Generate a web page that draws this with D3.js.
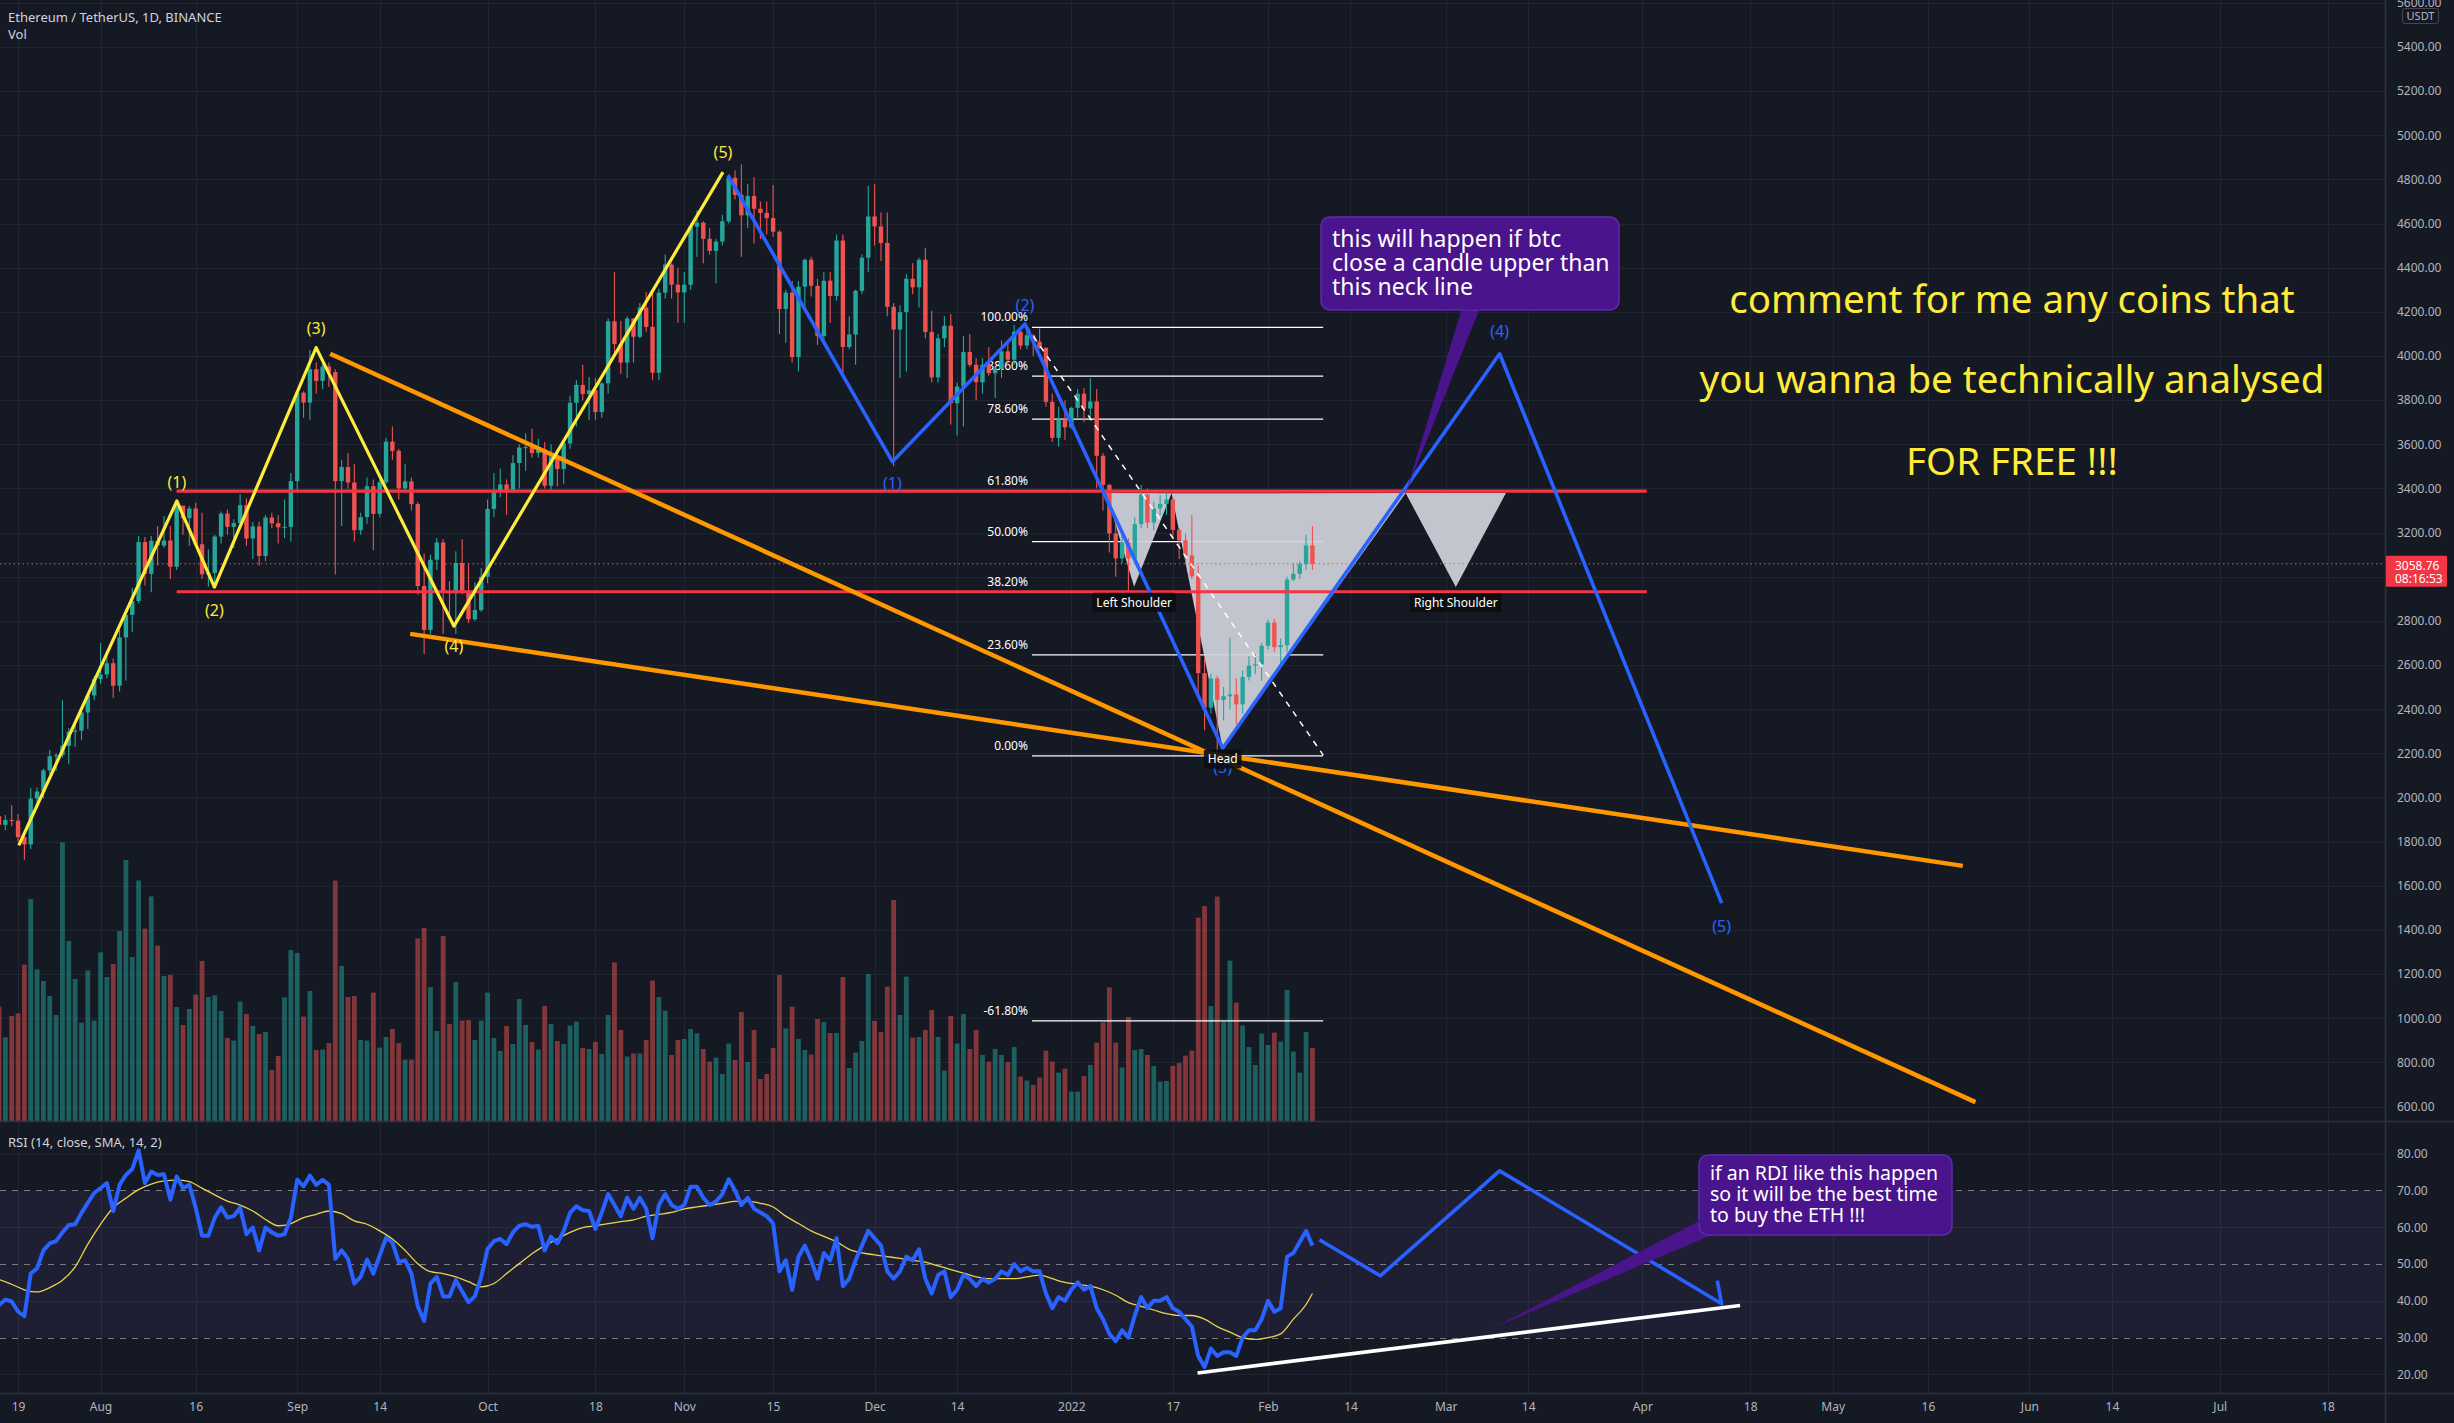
<!DOCTYPE html>
<html><head><meta charset="utf-8">
<script src="https://cdn.jsdelivr.net/npm/d3@7"></script>
<style>
html,body{margin:0;padding:0;background:#151924;overflow:hidden}
svg{display:block}
text{font-family:"Noto Sans","Open Sans",sans-serif}
</style></head><body>
<svg id="c" width="2454" height="1423"></svg>
<script>
// ================= DATA =================
const startDay = Date.UTC(2021, 6, 16); // first candle: 16 Jul 2021 (daily)
const firstOpen = 1915;
const closes = [1876,1898,1895,1820,1787,1995,2027,2123,2187,2191,
2234,2298,2303,2385,2462,2536,2557,2608,2506,2725,
2827,2890,3157,3013,3163,3141,3164,3045,3322,3265,
3309,3147,3011,3017,3182,3286,3226,3243,3324,3173,
3228,3094,3268,3242,3224,3226,3433,3834,3789,3940,
3887,3952,3927,3433,3497,3427,3211,3270,3410,3285,
3428,3612,3570,3400,3432,3329,2958,2759,3077,3155,
2930,2925,3062,2931,2807,2849,3000,3307,3391,3418,
3383,3515,3585,3587,3560,3575,3412,3545,3488,3604,
3788,3869,3828,3845,3746,3876,4157,4054,3970,4170,
4087,4219,4132,3924,4287,4414,4323,4288,4323,4586,
4604,4531,4476,4518,4610,4807,4730,4637,4725,4667,
4648,4625,4563,4213,4287,3995,4314,4436,4318,4090,
4341,4272,4523,4041,4097,4295,4445,4632,4587,4512,
4223,4120,4199,4350,4311,4436,4109,3903,4080,4137,
3786,3862,4018,3960,3881,3960,3922,3942,4021,3983,
4110,4047,4094,4065,4037,3792,3629,3713,3677,3765,
3829,3762,3794,3548,3416,3196,3083,3155,3083,3238,
3372,3245,3310,3330,3350,3212,3165,3096,3002,2563,
2407,2539,2442,2458,2467,2422,2546,2597,2603,2687,
2792,2681,2690,2987,3013,3057,3142,3058.76];
const highs = [1959,1920,1965,1925,1832,2043,2045,2130,2215,2200,
2440,2315,2350,2400,2470,2550,2700,2665,2630,2760,
2842,2950,3185,3180,3185,3230,3275,3230,3330,3305,
3320,3335,3290,3125,3190,3295,3305,3260,3375,3355,
3248,3250,3280,3290,3280,3350,3470,3840,3840,4027,
3970,3980,3970,3940,3530,3560,3510,3290,3450,3440,
3440,3630,3680,3580,3510,3450,3340,3105,3100,3175,
3170,2980,3115,3170,3060,2975,3040,3350,3470,3490,
3440,3550,3600,3650,3670,3625,3610,3600,3560,3610,
3820,3890,3960,3905,3900,3880,4170,4380,4160,4180,
4170,4240,4290,4300,4305,4460,4420,4400,4380,4600,
4660,4610,4580,4530,4640,4822,4840,4868,4780,4810,
4700,4700,4775,4570,4300,4340,4340,4440,4450,4350,
4380,4380,4550,4550,4180,4300,4460,4770,4778,4650,
4650,4240,4230,4370,4420,4445,4490,4205,4100,4180,
4190,3880,4090,4100,3990,3990,4040,3950,4070,4060,
4140,4120,4125,4100,4125,4040,3830,3770,3800,3770,
3850,3855,3900,3850,3560,3420,3240,3210,3175,3270,
3415,3400,3340,3370,3380,3360,3220,3195,3280,3050,
2630,2560,2550,2500,2725,2540,2575,2640,2650,2700,
2805,2810,2720,3000,3060,3070,3190,3230];
const lows = [1853,1852,1870,1800,1718,1767,1951,1995,2105,2120,
2180,2150,2230,2260,2310,2440,2515,2540,2451,2480,
2530,2750,2880,2960,2930,3050,3130,2990,3030,3190,
3140,3135,2990,2955,2970,3150,3190,3130,3235,3140,
3080,3050,3070,3220,3150,3175,3160,3385,3720,3710,
3830,3850,3860,3010,3230,3400,3160,3190,3240,3120,
3270,3420,3530,3350,3380,3300,2920,2650,2740,3030,
2740,2830,2740,2920,2790,2800,2840,2970,3270,3360,
3280,3380,3400,3480,3540,3540,3400,3390,3410,3420,
3580,3680,3800,3710,3710,3720,3830,4000,3920,3900,
3970,4080,4110,3890,3890,4260,4260,4150,4150,4300,
4450,4420,4460,4330,4500,4600,4710,4450,4580,4510,
4530,4550,4540,4100,4060,3970,3930,4210,4270,4050,
4060,4150,4250,3920,4030,3960,4280,4380,4500,4430,
4180,3500,3900,3930,4280,4220,4080,3880,3880,4040,
3690,3640,3680,3950,3800,3830,3910,3810,3900,3960,
3960,4030,4030,4000,4030,3770,3610,3590,3620,3670,
3720,3700,3720,3400,3300,3110,3000,3060,2930,3060,
3220,3220,3210,3280,3280,3180,3080,3060,2990,2470,
2305,2380,2159,2350,2400,2330,2380,2530,2560,2530,
2670,2660,2590,2660,2980,2990,3030,3030];
// volume, thousand ETH
const volumes = [572,418,525,538,782,1110,758,700,625,530,
1393,900,710,492,753,502,843,720,785,950,
1305,820,1202,962,1123,877,725,730,570,480,
560,632,800,620,628,550,415,402,597,535,
475,435,445,255,325,618,855,840,522,650,
355,357,390,1202,775,620,625,405,402,642,
367,420,460,390,307,307,913,965,670,450,
925,485,695,502,505,405,502,642,415,350,
475,385,610,480,395,357,575,485,400,385,
477,497,365,360,395,335,530,793,455,322,
338,338,405,702,620,552,330,405,410,460,
438,360,297,317,235,387,305,545,295,455,
210,235,365,730,463,572,410,355,332,510,
495,440,440,720,265,342,400,735,500,445,
672,1105,530,722,417,420,455,555,420,252,
525,387,535,360,455,330,297,360,330,295,
370,222,202,180,217,352,297,242,262,147,
147,225,280,392,493,668,392,267,520,355,
360,330,275,197,200,275,290,327,352,1017,
1075,575,1122,497,802,592,477,370,280,437,
380,442,397,655,347,242,445,365];
const rsiValues = [38.9,40.3,39.8,37.1,35.8,47.4,48.8,53.7,55.6,56.2,
58.6,60.6,60.8,63.9,66.6,69.3,70.6,72.0,64.4,71.5,
74.2,75.8,80.9,72.0,75.1,74.2,74.4,67.5,73.8,70.6,
71.5,65.3,57.7,57.7,62.6,65.4,62.6,63.0,65.3,58.1,
59.9,53.7,59.9,58.6,57.7,58.1,62.6,72.9,71.1,74.0,
71.5,72.9,71.5,51.4,53.7,51.4,44.7,46.5,51.2,47.4,
52.3,57.1,55.9,50.5,51.0,47.4,38.5,34.5,44.7,46.5,
41.2,41.2,45.6,42.5,39.6,41.2,46.5,54.1,56.2,56.8,
55.4,58.6,60.4,60.8,60.1,60.4,53.7,57.4,55.6,59.0,
63.9,65.7,64.6,64.4,59.5,64,69,66,63,68,
65,68,65,57,66,69,66,65,66,71,
71,68,66,67,69,73,70,66,68,65,
64,63,61,48,51,43,52,55,51,46,
53,51,57,44,46,51,55,59,57,55,
48,46,48,52,51,54,46,42,47,48,
41,43,47,46,44,46,45,46,48,47,
50,48,49,48,48,42,38,41,40,43,
45,43,44,38,35,31,29,32,30,36,
41,38,40,40,41,38,37,35,33,25,
22,27,25,26,26,25,30,32,32,35,
40,37,38,52,53,56,59,55];
const rsiSmaDays = [0,2,4,6,8,10,12,14,16,18,20,22,24,26,28,30,32,34,36,38,40,42,44,46,48,50,52,54,56,58,60,62,64,66,68,70,72,74,76,78,80,82,84,86,88,90,92,94,
96,98,100,102,104,106,108,110,112,114,116,118,120,122,124,126,128,130,132,134,136,138,140,142,144,146,148,150,152,154,156,158,160,162,164,166,168,170,172,174,176,178,180,182,184,186,188,190,192,194,196,198,200,202,204,206,207];
const rsiSmaValues = [45.8,44.5,43.0,42.4,43.6,45.6,49.2,55.4,60.8,65.3,67.9,70.2,71.7,72.6,72.8,72.4,70.6,68.8,67.1,66.0,64.4,62.1,60.4,61.0,62.6,63.5,64.4,63.7,61.7,60.8,59.0,56.8,53.7,50.1,47.9,47.4,46.5,45.2,43.8,44.7,47.4,50.1,52.8,55.0,56.8,58.6,59.9,60.4,
61,61.5,62,63,63.5,64,65,65.5,66,66.5,67,67,66.5,65.5,63,61,59,57.5,56,54,53,52.5,52,51.5,51,50.5,49.5,48.5,47.5,46.5,46,46,46,46.5,47,46,45,44.5,44,43,41.5,39.5,38.5,37.5,36.5,36,36,35,33,31.5,30,29.5,30,31,35,39,42];
const priceTicks = d3.range(600, 5601, 200);
const rsiTicks = [20,30,40,50,60,70,80];
const timeTicks = [["2021-07-19","19"],["2021-08-01","Aug"],["2021-08-16","16"],["2021-09-01","Sep"],["2021-09-14","14"],["2021-10-01","Oct"],["2021-10-18","18"],["2021-11-01","Nov"],["2021-11-15","15"],["2021-12-01","Dec"],["2021-12-14","14"],["2022-01-01","2022"],["2022-01-17","17"],["2022-02-01","Feb"],["2022-02-14","14"],["2022-03-01","Mar"],["2022-03-14","14"],["2022-04-01","Apr"],["2022-04-18","18"],["2022-05-01","May"],["2022-05-16","16"],["2022-06-01","Jun"],["2022-06-14","14"],["2022-07-01","Jul"],["2022-07-18","18"]];
const lastPrice = 3058.76, countdown = "08:16:53";
// drawings, in [day index, price] / [day index, rsi]
const yellowWave = [[3.12,1783],[28.03,3343],[33.95,2953],[49.98,4038],[71.7,2776],[114.1,4833]];
const yellowLabels = ["","(1)","(2)","(3)","(4)","(5)"];
const blueWave = [[114.9,4818],[140.8,3521],[161.7,4145],[192.86,2223],[236.5,4010],[271.5,1521]];
const blueLabels = ["","(1)","(2)","(3)","(4)","(5)"];
const necklines = [[[28.0,3388],[259.7,3388]],[[28.0,2932],[259.7,2932]]];
const orangeLines = [[[52.2,4010],[311.5,620]],[[64.8,2741],[309.5,1690]]];
const hsPoints = [[174.5,3379],[178.9,2955],[184.8,3378],[192.86,2223],[221.7,3379],[229.6,2953],[237.5,3379]];
const fibHigh = 4130, fibLow = 2188, fibFrom = 162.8, fibTo = 208.7;
const fibLevels = [1,0.886,0.786,0.618,0.5,0.382,0.236,0,-0.618];
const fibTexts = ["100.00%","88.60%","78.60%","61.80%","50.00%","38.20%","23.60%","0.00%","-61.80%"];
const fibTrend = [[161.96,4133],[208.7,2192]];
const rsiPath = [[208.1,56.6],[217.7,46.8],[236.5,75.3],[271.5,39.2],[270.8,45.5]];
const rsiWhite = [[188.9,20.4],[274.4,38.7]];
const callout1Text = ["this will happen if btc","close a candle upper than","this neck line"];
const callout2Text = ["if an RDI like this happen","so it will be the best time","to buy the ETH !!!"];
const bigText = ["comment for me any coins that","you wanna be technically analysed","FOR FREE !!!"];

// ================= LAYOUT =================
const W = 2454, H = 1423, AX = 2385, PB = 1121, RT = 1122, RB = 1393;
const DAY = 864e5, PXD = 6.345;
const day = i => new Date(startDay + i * DAY);
const x = d3.scaleUtc().domain([day(0), day(376)]).range([-1, -1 + 376 * PXD]);
const X = i => x(day(i));
const y = d3.scaleLinear().domain([600, 5400]).range([1106.5, 46.95]);
const yVol = d3.scaleLinear().domain([0, 1500]).range([PB, PB - 300]);
const yR = d3.scaleLinear().domain([20, 80]).range([1374.4, 1153.6]);
const UP = "#26a69a", DN = "#ef5350";
const opens = closes.map((c, i) => i ? closes[i - 1] : firstOpen);

const svg = d3.select("#c");
svg.append("rect").attr("width", W).attr("height", H).attr("fill", "#151924");
const defs = svg.append("defs");
defs.append("clipPath").attr("id", "cp").append("rect").attr("x", 0).attr("y", 0).attr("width", AX).attr("height", PB);
defs.append("clipPath").attr("id", "cr").append("rect").attr("x", 0).attr("y", RT).attr("width", AX).attr("height", RB - RT);

const GRID = "#212532";
const grid = svg.append("g");
grid.selectAll(".vg").data(timeTicks).join("line")
  .attr("x1", d => Math.round(x(new Date(d[0] + "T00:00:00Z"))) + 0.5).attr("x2", d => Math.round(x(new Date(d[0] + "T00:00:00Z"))) + 0.5)
  .attr("y1", 0).attr("y2", RB).attr("stroke", GRID);
grid.selectAll(".hg").data(priceTicks).join("line")
  .attr("x1", 0).attr("x2", AX).attr("y1", d => Math.round(y(d)) + 0.5).attr("y2", d => Math.round(y(d)) + 0.5).attr("stroke", GRID);
grid.selectAll(".rg").data([20,40,60,80]).join("line")
  .attr("x1", 0).attr("x2", AX).attr("y1", d => Math.round(yR(d)) + 0.5).attr("y2", d => Math.round(yR(d)) + 0.5).attr("stroke", GRID);

// ---------- price pane ----------
const P = svg.append("g").attr("clip-path", "url(#cp)");
P.append("g").selectAll("rect").data(volumes).join("rect")
  .attr("x", (v, i) => X(i) - 2.4).attr("width", 4.8)
  .attr("y", v => yVol(v)).attr("height", v => PB - yVol(v))
  .attr("fill", (v, i) => closes[i] >= opens[i] ? "rgba(38,166,154,0.5)" : "rgba(239,83,80,0.5)");
const fibG = P.append("g");
fibLevels.forEach((r, k) => {
  const p = fibLow + r * (fibHigh - fibLow);
  fibG.append("line").attr("x1", X(fibFrom)).attr("x2", X(fibTo)).attr("y1", y(p)).attr("y2", y(p))
    .attr("stroke", "#ffffff").attr("stroke-width", 1.3);
  fibG.append("text").attr("x", X(fibFrom) - 4).attr("y", y(p) - 6).attr("text-anchor", "end")
    .attr("font-size", 12).attr("fill", "#ffffff").text(fibTexts[k]);
});
const hp = hsPoints.map(d => [X(d[0]), y(d[1])]);
[[0,1,2],[2,3,4],[4,5,6]].forEach(t => {
  P.append("path").attr("d", d3.line()(t.map(k => hp[k])) + "Z").attr("fill", "#d1d4dc").attr("fill-opacity", 0.92);
});
const cg = P.append("g");
closes.forEach((c, i) => {
  const o = opens[i], col = c >= o ? UP : DN, cx = X(i);
  cg.append("line").attr("x1", cx).attr("x2", cx).attr("y1", y(highs[i])).attr("y2", y(lows[i])).attr("stroke", col).attr("stroke-width", 1.1);
  const yt = y(Math.max(o, c)), yb = y(Math.min(o, c));
  cg.append("rect").attr("x", cx - 2.2).attr("width", 4.4).attr("y", yt).attr("height", Math.max(1, yb - yt)).attr("fill", col);
});
P.append("line").attr("x1", 0).attr("x2", AX).attr("y1", y(lastPrice)).attr("y2", y(lastPrice))
  .attr("stroke", DN).attr("stroke-dasharray", "1.5,3").attr("stroke-width", 1);
P.append("line").attr("x1", X(fibTrend[0][0])).attr("y1", y(fibTrend[0][1])).attr("x2", X(fibTrend[1][0])).attr("y2", y(fibTrend[1][1]))
  .attr("stroke", "#ffffff").attr("stroke-width", 1.5).attr("stroke-dasharray", "6,6");
const pl = d3.line().x(d => X(d[0])).y(d => y(d[1]));
necklines.forEach(l => P.append("path").attr("d", pl(l)).attr("stroke", "#f23645").attr("stroke-width", 3.2).attr("fill", "none"));
orangeLines.forEach(l => P.append("path").attr("d", pl(l)).attr("stroke", "#ff9800").attr("stroke-width", 4.5).attr("fill", "none"));
P.append("path").attr("d", pl(yellowWave)).attr("stroke", "#ffeb3b").attr("stroke-width", 3.2).attr("fill", "none").attr("stroke-linejoin", "round");
P.append("path").attr("d", pl(blueWave)).attr("stroke", "#2962ff").attr("stroke-width", 3.6).attr("fill", "none").attr("stroke-linejoin", "round");
const yOff = [0, -19, 23, -19, 20, -20];
yellowWave.forEach((d, k) => { if (!yellowLabels[k]) return;
  P.append("text").attr("x", X(d[0])).attr("y", y(d[1]) + yOff[k]).attr("dy", "0.35em").attr("text-anchor", "middle")
    .attr("font-size", 16).attr("fill", "#ffeb3b").text(yellowLabels[k]); });
const bOff = [0, 22, -19, 19, -22, 23];
blueWave.forEach((d, k) => { if (!blueLabels[k]) return;
  P.append("text").attr("x", X(d[0])).attr("y", y(d[1]) + bOff[k]).attr("dy", "0.35em").attr("text-anchor", "middle")
    .attr("font-size", 16).attr("fill", "#2962ff").text(blueLabels[k]); });
function tag(g, cx, cy, txt) {
  const t = g.append("text").attr("x", cx).attr("y", cy).attr("dy", "0.35em").attr("text-anchor", "middle")
    .attr("font-size", 12).attr("fill", "#ffffff").text(txt);
  const b = t.node().getBBox();
  g.insert("rect", function () { return t.node(); }).attr("x", b.x - 4).attr("y", b.y - 1).attr("width", b.width + 8).attr("height", b.height + 2)
    .attr("fill", "#0c0d10").attr("fill-opacity", 0.9).attr("rx", 2);
}
tag(P, hp[1][0], hp[1][1] + 16, "Left Shoulder");
tag(P, hp[3][0], hp[3][1] + 11, "Head");
tag(P, hp[5][0], hp[5][1] + 16, "Right Shoulder");

function callout(g, bx, by, bw, bh, tail, lines, fs, lh, base) {
  g.append("path").attr("d", d3.line()(tail) + "Z").attr("fill", "#4a148c");
  g.append("rect").attr("x", bx).attr("y", by).attr("width", bw).attr("height", bh).attr("rx", 9)
    .attr("fill", "#4a148c").attr("stroke", "#5b2ca8").attr("stroke-width", 1.5);
  g.append("path").attr("d", d3.line()(tail.slice(0, 2))).attr("stroke", "#4a148c").attr("stroke-width", 3);
  lines.forEach((s, k) => g.append("text").attr("x", bx + 11).attr("y", base + k * lh).attr("font-size", fs).attr("fill", "#ffffff").text(s));
}
const tip1 = [X(hsPoints[4][0]), y(hsPoints[4][1])];
callout(svg, 1321, 217, 298, 93, [[1462, 308], [1480, 308], tip1], callout1Text, 23, 24, 247);

const bt = svg.append("g");
bigText.forEach((s, k) => bt.append("text").attr("x", 2012).attr("y", [313, 393, 475][k]).attr("text-anchor", "middle")
  .attr("font-size", 38.5).attr("fill", "#ffeb3b").text(s));

// ---------- RSI pane ----------
const R = svg.append("g").attr("clip-path", "url(#cr)");
R.append("rect").attr("x", 0).attr("width", AX).attr("y", yR(70)).attr("height", yR(30) - yR(70)).attr("fill", "rgba(126,87,194,0.1)");
[70, 50, 30].forEach(v => R.append("line").attr("x1", 0).attr("x2", AX).attr("y1", Math.round(yR(v)) + 0.5).attr("y2", Math.round(yR(v)) + 0.5)
  .attr("stroke", "#787b86").attr("stroke-dasharray", "6,6"));
R.append("path").attr("d", d3.line().curve(d3.curveMonotoneX).x((d, k) => X(rsiSmaDays[k])).y(d => yR(d))(rsiSmaValues))
  .attr("fill", "none").attr("stroke", "#e8d44d").attr("stroke-width", 1.3);
R.append("path").attr("d", d3.line().x((d, i) => X(i)).y(d => yR(d))(rsiValues))
  .attr("fill", "none").attr("stroke", "#2962ff").attr("stroke-width", 4).attr("stroke-linejoin", "round");
const rl = d3.line().x(d => X(d[0])).y(d => yR(d[1]));
R.append("path").attr("d", rl(rsiPath)).attr("fill", "none").attr("stroke", "#2962ff").attr("stroke-width", 3.6).attr("stroke-linejoin", "round");
R.append("path").attr("d", rl(rsiWhite)).attr("fill", "none").attr("stroke", "#ffffff").attr("stroke-width", 3.6);
const tip2 = [X(235.7), yR(32.8)];
callout(svg, 1699, 1155, 253, 80, [[1699, 1221], [1714, 1234], tip2], callout2Text, 19.5, 21, 1180);

// ---------- axes ----------
svg.append("line").attr("x1", 0).attr("x2", W).attr("y1", PB + 0.5).attr("y2", PB + 0.5).attr("stroke", "#2f3340").attr("stroke-width", 1.5);
svg.append("line").attr("x1", 0).attr("x2", W).attr("y1", RB + 0.5).attr("y2", RB + 0.5).attr("stroke", "#2f3340").attr("stroke-width", 1.5);
svg.append("line").attr("x1", AX + 0.5).attr("x2", AX + 0.5).attr("y1", 0).attr("y2", H).attr("stroke", "#2f3340").attr("stroke-width", 1.5);

const lastY = y(lastPrice);
const pa = svg.append("g").attr("transform", `translate(${AX},0)`)
  .call(d3.axisRight(y).tickValues(priceTicks.filter(p => Math.abs(y(p) - lastY) > 22)).tickSize(0).tickPadding(12).tickFormat(d => d.toFixed(2)));
const ra = svg.append("g").attr("transform", `translate(${AX},0)`)
  .call(d3.axisRight(yR).tickValues(rsiTicks).tickSize(0).tickPadding(12).tickFormat(d => d.toFixed(2)));
const ta = svg.append("g").attr("transform", `translate(0,${RB})`)
  .call(d3.axisBottom(x).tickValues(timeTicks.map(d => new Date(d[0] + "T00:00:00Z"))).tickSize(0)
    .tickFormat((d, k) => timeTicks[k][1]));
[pa, ra, ta].forEach(a => { a.select(".domain").remove();
  a.selectAll("text").attr("fill", "#b2b5be").attr("font-size", 12).attr("font-family", "Roboto, 'Noto Sans', sans-serif"); });
ta.selectAll("text").attr("y", 14).attr("dy", "0.35em");

svg.append("rect").attr("x", 2402.5).attr("y", 8.5).attr("width", 36).attr("height", 15).attr("rx", 2).attr("fill", "#151924").attr("stroke", "#434651");
svg.append("text").attr("x", 2420.5).attr("y", 16).attr("dy", "0.35em").attr("text-anchor", "middle").attr("font-size", 11).attr("fill", "#b2b5be").attr("font-family", "Roboto, sans-serif").text("USDT");
svg.append("rect").attr("x", AX + 1).attr("y", lastY - 8).attr("width", 61).attr("height", 31).attr("fill", "#f23645").attr("rx", 1);
svg.append("text").attr("x", AX + 10).attr("y", lastY + 2).attr("dy", "0.35em").attr("font-size", 12).attr("fill", "#fff").attr("font-family", "Roboto, sans-serif").text(lastPrice.toFixed(2));
svg.append("text").attr("x", AX + 10).attr("y", lastY + 15).attr("dy", "0.35em").attr("font-size", 12).attr("fill", "#fff").attr("font-family", "Roboto, sans-serif").text(countdown);

svg.append("text").attr("x", 8).attr("y", 17).attr("dy", "0.35em").attr("font-size", 13).attr("fill", "#d1d4dc").text("Ethereum / TetherUS, 1D, BINANCE");
svg.append("text").attr("x", 8).attr("y", 34).attr("dy", "0.35em").attr("font-size", 13).attr("fill", "#d1d4dc").text("Vol");
svg.append("text").attr("x", 8).attr("y", 1142).attr("dy", "0.35em").attr("font-size", 13).attr("fill", "#d1d4dc").text("RSI (14, close, SMA, 14, 2)");
</script>
</body></html>
